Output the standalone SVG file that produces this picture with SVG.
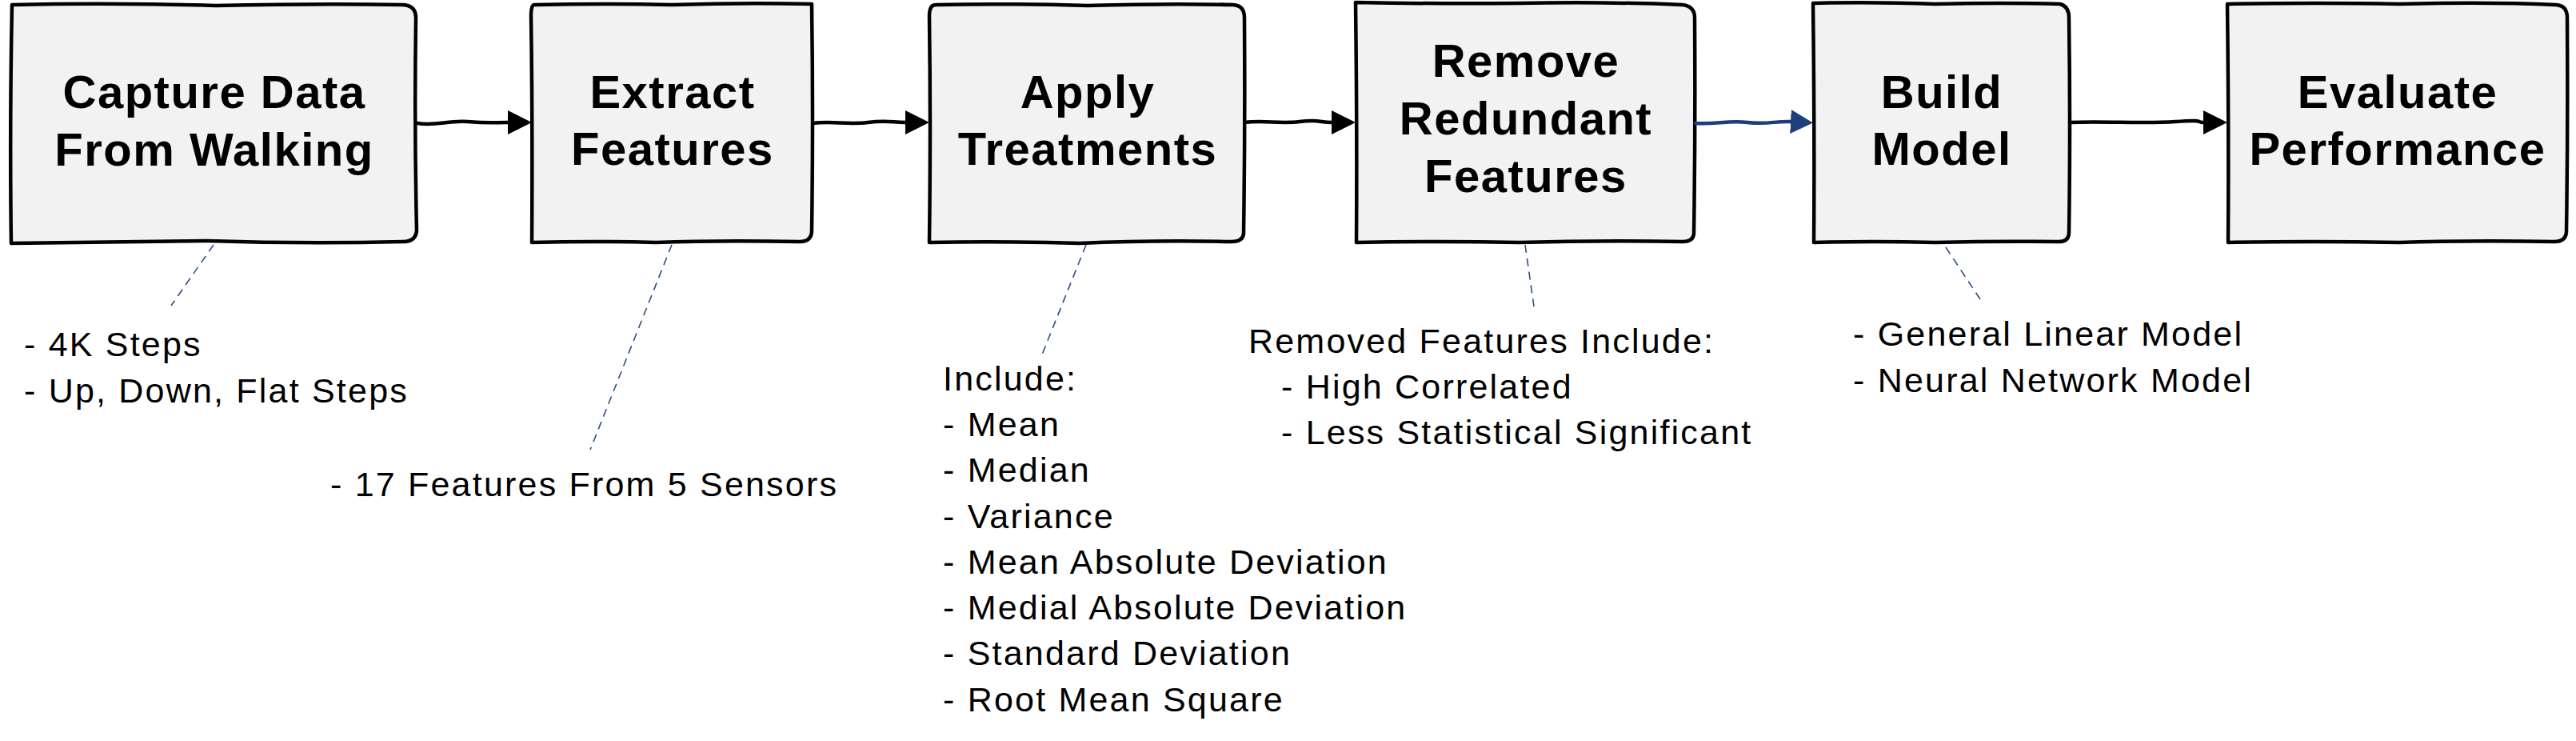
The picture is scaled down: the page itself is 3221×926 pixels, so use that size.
<svg xmlns="http://www.w3.org/2000/svg" width="3221" height="926" viewBox="0 0 3221 926">
<style>
.box{fill:#f2f2f2;stroke:#000;stroke-width:4.5;stroke-linejoin:round}
.title{font-family:"Liberation Sans",Arial,sans-serif;font-weight:bold;font-size:58px;letter-spacing:1.5px;text-anchor:middle;fill:#000}
.note{font-family:"Liberation Sans",Arial,sans-serif;font-size:43px;letter-spacing:2.2px;fill:#000}
.arrow{fill:none;stroke:#000;stroke-width:4.5;stroke-linecap:round}
.arrow.blue{stroke:#1c3f7c}
.leader{fill:none;stroke:#2d4f80;stroke-width:1.6;stroke-dasharray:10 7}
</style>
<defs>
<marker id="ah" markerUnits="userSpaceOnUse" markerWidth="32" markerHeight="32" refX="0" refY="15" orient="auto" viewBox="0 0 32 32">
<path d="M0,0 L30,15 L0,30 Z" fill="#000"/>
</marker>
<marker id="ahb" markerUnits="userSpaceOnUse" markerWidth="32" markerHeight="32" refX="0" refY="15" orient="auto" viewBox="0 0 32 32">
<path d="M0,0 L28,15 L0,30 Z" fill="#1c3f7c"/>
</marker>
</defs>

<g id="node-capture">
<path class="box" d="M15 6 Q140 3 270 7 Q400 4 504 6 Q520 7 520 22 Q518 160 521 288 Q520 302 504 302 Q380 305 260 301 Q140 303 14 304 Q12 160 15 6 Z"/>
<text class="title" x="268" y="135">Capture Data</text>
<text class="title" x="268" y="207">From Walking</text>
</g>

<g id="node-extract">
<path class="box" d="M668 6 Q760 4 840 6 Q930 3 1015 5 Q1017 150 1015 288 Q1015 302 1000 302 Q900 300 820 303 Q740 301 665 303 Q666 150 664 20 Q664 6 668 6 Z"/>
<text class="title" x="841" y="135">Extract</text>
<text class="title" x="841" y="206">Features</text>
</g>

<g id="node-apply">
<path class="box" d="M1170 6 Q1260 4 1360 7 Q1460 4 1542 6 Q1556 7 1556 22 Q1557 160 1555 292 Q1554 302 1540 302 Q1440 300 1350 304 Q1250 301 1162 303 Q1164 160 1162 20 Q1162 6 1170 6 Z"/>
<text class="title" x="1360" y="135">Apply</text>
<text class="title" x="1360" y="206">Treatments</text>
</g>

<g id="node-remove">
<path class="box" d="M1695 3 Q1800 5 1900 4 Q2010 2 2104 6 Q2119 8 2119 22 Q2120 160 2118 292 Q2117 302 2104 302 Q2000 300 1900 303 Q1800 301 1696 303 Q1697 160 1695 3 Z"/>
<text class="title" x="1908" y="96">Remove</text>
<text class="title" x="1908" y="168">Redundant</text>
<text class="title" x="1908" y="240">Features</text>
</g>

<g id="node-build">
<path class="box" d="M2268 4 Q2340 2 2420 5 Q2500 3 2576 5 Q2587 8 2587 22 Q2589 160 2587 292 Q2586 303 2572 302 Q2500 301 2420 303 Q2340 301 2268 303 Q2269 160 2267 4 Z"/>
<text class="title" x="2428" y="135">Build</text>
<text class="title" x="2428" y="206">Model</text>
</g>

<g id="node-evaluate">
<path class="box" d="M2786 5 Q2900 3 3000 5 Q3110 2 3196 6 Q3210 7 3210 22 Q3211 160 3209 290 Q3208 302 3194 302 Q3090 300 3000 303 Q2890 301 2786 303 Q2787 160 2785 5 Z"/>
<text class="title" x="2998" y="135">Evaluate</text>
<text class="title" x="2998" y="206">Performance</text>
</g>

<g id="connectors">
<path class="arrow" d="M522 154 C545 158 560 150 585 152 S615 153 635 153" marker-end="url(#ah)"/>
<path class="arrow" d="M1017 154 C1040 151 1060 156 1085 153 S1115 153 1132 153" marker-end="url(#ah)"/>
<path class="arrow" d="M1557 153 C1580 150 1600 155 1625 152 S1650 153 1665 153" marker-end="url(#ah)"/>
<path class="arrow blue" d="M2120 154 C2145 156 2160 150 2185 153 S2220 151 2239 152" marker-end="url(#ahb)"/>
<path class="arrow" d="M2588 153 C2630 151 2680 155 2720 152 S2745 153 2755 153" marker-end="url(#ah)"/>
<path class="leader" d="M267 306 L214 382"/>
<path class="leader" d="M840 306 L738 562"/>
<path class="leader" d="M1358 306 L1303 443"/>
<path class="leader" d="M1907 306 L1919 390"/>
<path class="leader" d="M2433 309 L2480 380"/>
</g>

<g id="notes">
<text class="note" x="30" y="445">- 4K Steps</text>
<text class="note" x="30" y="503">- Up, Down, Flat Steps</text>
<text class="note" x="413" y="620">- 17 Features From 5 Sensors</text>
<text class="note" x="1179" y="488">Include:</text>
<text class="note" x="1179" y="545">- Mean</text>
<text class="note" x="1179" y="602">- Median</text>
<text class="note" x="1179" y="660">- Variance</text>
<text class="note" x="1179" y="717">- Mean Absolute Deviation</text>
<text class="note" x="1179" y="774">- Medial Absolute Deviation</text>
<text class="note" x="1179" y="831">- Standard Deviation</text>
<text class="note" x="1179" y="889">- Root Mean Square</text>
<text class="note" x="1561" y="441">Removed Features Include:</text>
<text class="note" x="1602" y="498">- High Correlated</text>
<text class="note" x="1602" y="555">- Less Statistical Significant</text>
<text class="note" x="2317" y="432">- General Linear Model</text>
<text class="note" x="2317" y="490">- Neural Network Model</text>
</g>
</svg>
